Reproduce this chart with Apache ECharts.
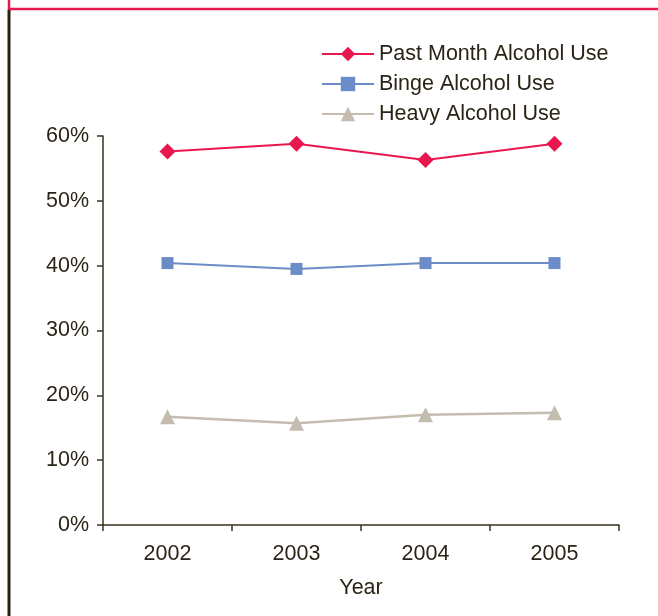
<!DOCTYPE html>
<html>
<head>
<meta charset="utf-8">
<script src="https://cdn.jsdelivr.net/npm/echarts@6/dist/echarts.min.js"></script>
<style>
  html, body { margin: 0; padding: 0; background: #fff; }
  #chart { width: 658px; height: 616px; }
</style>
</head>
<body>
<div id="chart"></div>
<script>
// data
const years = ['2002', '2003', '2004', '2005']
const pastMonth = [57.6, 58.8, 56.3, 58.8]
const binge = [40.4, 39.5, 40.4, 40.4]
const heavy = [16.7, 15.7, 17.0, 17.3]

const textColor = '#2b2416'
const font = 'Liberation Sans, Arial, sans-serif'
const fs = 21.5

let myChart = echarts.init(document.getElementById('chart'))

const option = {
  animation: false,
  textStyle: { fontFamily: font, color: textColor },
  graphic: [
    // red frame edge on top, dark rule on the left
    { type: 'rect', shape: { x: 9, y: -10, width: 700, height: 19 }, style: { fill: 'none', stroke: '#e8174f', lineWidth: 2.5 } },
    { type: 'line', shape: { x1: 9, y1: 10, x2: 9, y2: 616 }, style: { stroke: '#2a2010', lineWidth: 3 } }
  ],
  legend: {
    orient: 'vertical',
    left: 316,
    top: 38,
    itemWidth: 52,
    itemHeight: 18,
    itemGap: 8,
    textStyle: { fontSize: fs, color: textColor, fontFamily: font, padding: [0, 0, 0, 0] },
    data: ['Past Month Alcohol Use', 'Binge Alcohol Use', 'Heavy Alcohol Use']
  },
  grid: { left: 103, right: 39, top: 136, bottom: 91 },
  xAxis: {
    type: 'category',
    data: years,
    boundaryGap: true,
    name: 'Year',
    nameLocation: 'middle',
    nameGap: 52,
    nameTextStyle: { fontSize: fs, color: textColor },
    axisLine: { lineStyle: { color: '#3a3220', width: 1.5 } },
    axisTick: { show: true, length: 6, lineStyle: { color: '#3a3220', width: 1.5 } },
    axisLabel: { fontSize: fs, color: textColor, margin: 18 }
  },
  yAxis: {
    type: 'value',
    min: 0,
    max: 60,
    interval: 10,
    axisLine: { show: true, lineStyle: { color: '#3a3220', width: 1.5 } },
    axisTick: { show: true, length: 6, lineStyle: { color: '#3a3220', width: 1.5 } },
    splitLine: { show: false },
    axisLabel: { fontSize: fs, color: textColor, margin: 14, formatter: '{value}%' }
  },
  series: [
    {
      name: 'Past Month Alcohol Use',
      type: 'line',
      data: pastMonth,
      symbol: 'diamond',
      symbolSize: 16,
      lineStyle: { color: '#e8174f', width: 2 },
      itemStyle: { color: '#e8174f' }
    },
    {
      name: 'Binge Alcohol Use',
      type: 'line',
      data: binge,
      symbol: 'rect',
      symbolSize: 12,
      lineStyle: { color: '#6b8cc7', width: 2 },
      itemStyle: { color: '#6b8cc7' }
    },
    {
      name: 'Heavy Alcohol Use',
      type: 'line',
      data: heavy,
      symbol: 'triangle',
      symbolSize: 15,
      lineStyle: { color: '#c4bcaf', width: 2.5 },
      itemStyle: { color: '#c4bcaf' }
    }
  ]
}

option && myChart.setOption(option)
</script>
</body>
</html>
